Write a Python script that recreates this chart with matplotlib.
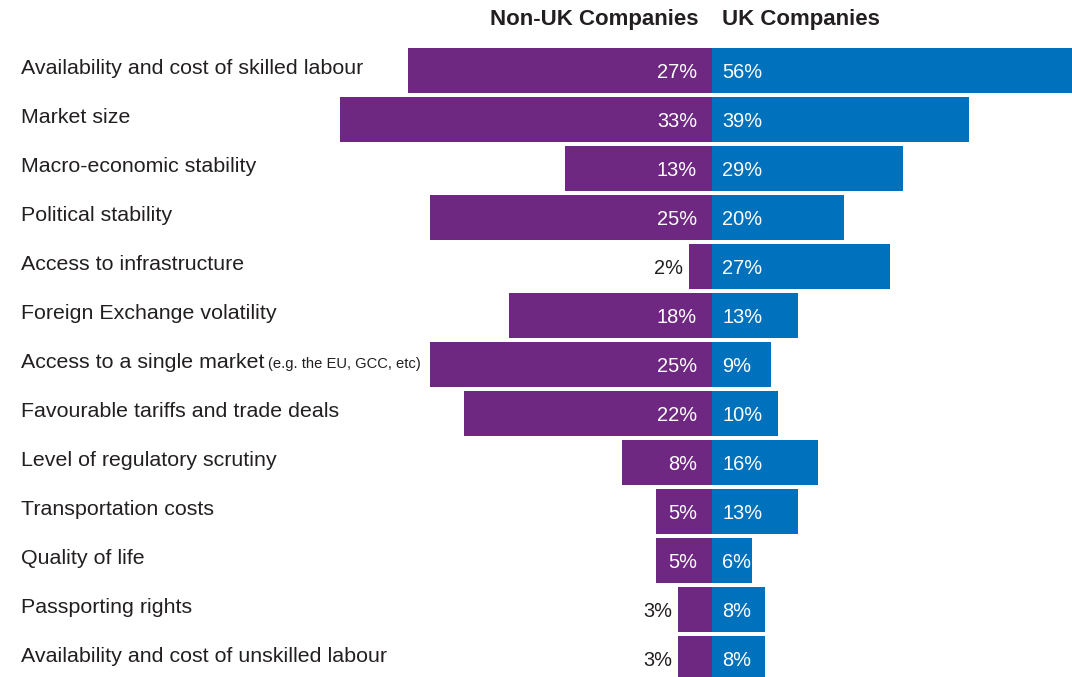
import matplotlib
matplotlib.use("Agg")
import matplotlib.pyplot as plt
from matplotlib.transforms import blended_transform_factory

categories = [
    "Availability and cost of skilled labour",
    "Market size",
    "Macro-economic stability",
    "Political stability",
    "Access to infrastructure",
    "Foreign Exchange volatility",
    "Access to a single market",
    "Favourable tariffs and trade deals",
    "Level of regulatory scrutiny",
    "Transportation costs",
    "Quality of life",
    "Passporting rights",
    "Availability and cost of unskilled labour",
]
category_notes = ["", "", "", "", "", "", "(e.g. the EU, GCC, etc)", "", "", "", "", "", ""]
non_uk = [27, 33, 13, 25, 2, 18, 25, 22, 8, 5, 5, 3, 3]
uk = [56, 39, 29, 20, 27, 13, 9, 10, 16, 13, 6, 8, 8]
headers = ["Non-UK Companies", "UK Companies"]

PURPLE = "#6E2882"
BLUE = "#0071BC"
DARK = "#231F20"
FONT = "Liberation Sans"

W, H = 1072, 677
fig = plt.figure(figsize=(W / 100, H / 100), dpi=100)

center = 712
left_px = 300
pxL = 11.27
pxR = 6.6
row0 = 70.5
pitch = 49.0
ylim = ((H - row0) / pitch, -row0 / pitch)

axL = fig.add_axes([left_px / W, 0, (center - left_px) / W, 1])
axR = fig.add_axes([center / W, 0, (W - center) / W, 1])
for ax in (axL, axR):
    ax.set_ylim(*ylim)
    ax.axis("off")
axL.set_xlim((center - left_px) / pxL, 0)
axR.set_xlim(0, (W - center) / pxR)

ys = list(range(len(categories)))
axL.barh(ys, non_uk, height=0.92, color=PURPLE, linewidth=0)
axR.barh(ys, uk, height=0.92, color=BLUE, linewidth=0)

fs = 15.4
vfs = 14.4
dy = -2 * 0.72
for y, v in zip(ys, non_uk):
    bar_px = v * pxL
    if bar_px > 45:
        axL.annotate(f"{v}%", (0, y), xytext=(-15 * 0.72, dy), textcoords="offset points",
                     ha="right", va="center", color="white", fontsize=vfs, family=FONT)
    else:
        axL.annotate(f"{v}%", (v, y), xytext=(-6 * 0.72, dy), textcoords="offset points",
                     ha="right", va="center", color=DARK, fontsize=vfs, family=FONT)
for y, v in zip(ys, uk):
    axR.annotate(f"{v}%", (0, y), xytext=(10 * 0.72, dy), textcoords="offset points",
                 ha="left", va="center", color="white", fontsize=vfs, family=FONT)

tr = blended_transform_factory(fig.transFigure, axL.transData)
for y, name, note in zip(ys, categories, category_notes):
    t = fig.text(21 / W, y - 0.05, name, transform=tr, ha="left", va="center",
                 color=DARK, fontsize=fs, family=FONT)
    if note:
        fig.canvas.draw()
        bb = t.get_window_extent()
        fig.text((bb.x1 + 4) / W, y - 0.02, note, transform=tr, ha="left", va="center",
                 color=DARK, fontsize=10.6, family=FONT)

fig.text(698 / W, 1 - 20 / H, headers[0], ha="right", va="center", fontsize=16,
         fontweight="bold", color=DARK, family=FONT)
fig.text(722 / W, 1 - 20 / H, headers[1], ha="left", va="center", fontsize=16,
         fontweight="bold", color=DARK, family=FONT)

fig.savefig("out.png", dpi=100, facecolor="white")
